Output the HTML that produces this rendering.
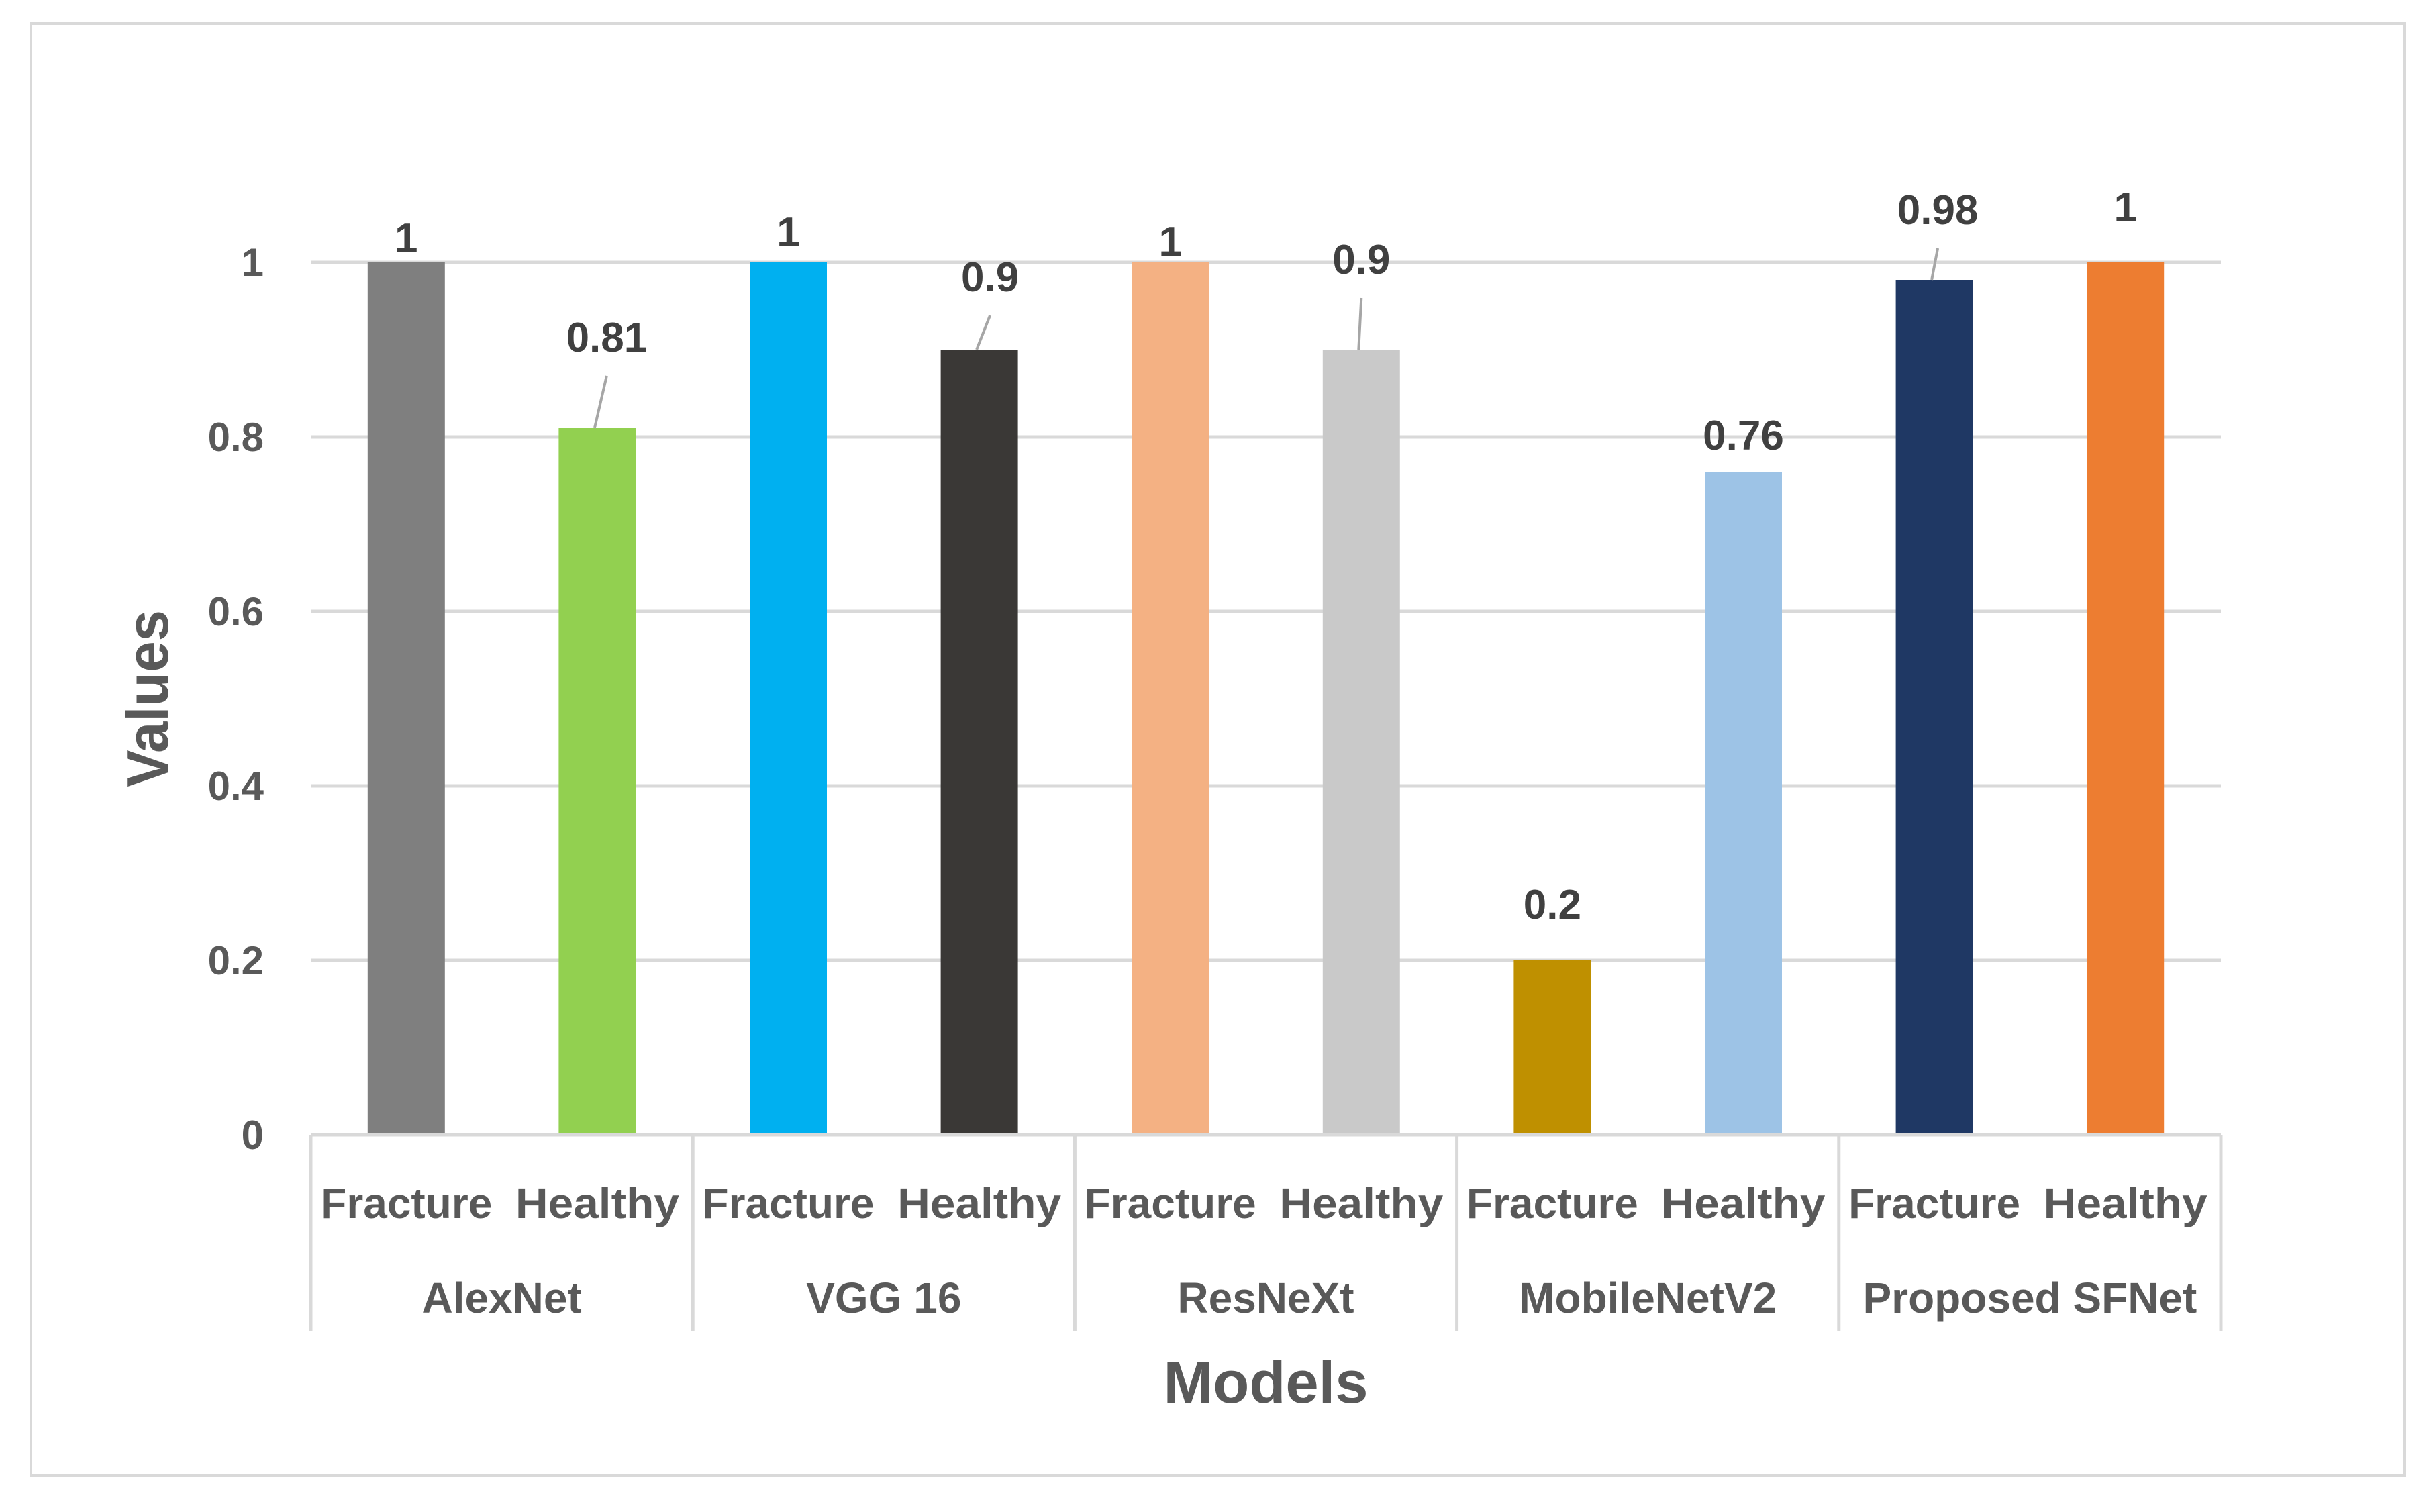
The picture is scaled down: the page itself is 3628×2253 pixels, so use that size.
<!DOCTYPE html>
<html><head><meta charset="utf-8"><style>
html,body{margin:0;padding:0;background:#fff;}
svg{display:block;font-family:"Liberation Sans",sans-serif;}
</style></head><body>
<svg id="chart" width="3628" height="2253" viewBox="0 0 3628 2253" xmlns="http://www.w3.org/2000/svg">
<rect x="46" y="35" width="3537" height="2164" fill="#fff" stroke="#d9d9d9" stroke-width="4"/>
<g id="grid"></g><g id="bars"></g><g id="labels"></g><g id="axes"></g>
<text transform="translate(250,1041) rotate(-90)" text-anchor="middle" font-size="88" font-weight="bold" fill="#595959" textLength="264" lengthAdjust="spacingAndGlyphs">Values</text>
<text x="1886" y="2090" text-anchor="middle" font-size="88" font-weight="bold" fill="#595959" textLength="305" lengthAdjust="spacingAndGlyphs">Models</text>
</svg>
<script>
const models = ["AlexNet","VGG 16","ResNeXt","MobileNetV2","Proposed SFNet"];
const classes = ["Fracture","Healthy"];
const values = [1,0.81,1,0.9,1,0.9,0.2,0.76,0.98,1];
const valueLabels = ["1","0.81","1","0.9","1","0.9","0.2","0.76","0.98","1"];
const yTicks = [0,0.2,0.4,0.6,0.8,1];
const colors = ["#7f7f7f","#92d050","#00b0f0","#3a3836","#f4b183","#c9c9c9","#bf9000","#9dc3e6","#1f3864","#ed7d31"];
const labelLift = [37,136,46,109,32,135,84,55,105,83];
const labelShift = [0,14,0,16,0,0,0,0,5,0];
const leader = [false,true,false,true,false,true,false,false,true,false];

const NS="http://www.w3.org/2000/svg";
const L=463,R=3309,T=391,B=1691;
const nCat=values.length, catW=(R-L)/nCat, barW=115;
const y=v=>B-(B-T)*v;
const xc=i=>L+catW*(i+0.5);
function mk(tag,attrs,parent,text){const e=document.createElementNS(NS,tag);for(const k in attrs)e.setAttribute(k,attrs[k]);if(text!==undefined)e.textContent=text;document.getElementById(parent).appendChild(e);return e;}

yTicks.forEach(t=>{
  if(t>0){const g=mk('line',{x1:L,x2:R,y1:y(t),y2:y(t),stroke:'#d9d9d9','stroke-width':5},'grid');
  
  }
  const tl=mk('text',{x:393,y:y(t)+21,'text-anchor':'end','font-size':60,'font-weight':'bold',fill:'#595959'},'axes',String(t));
  
  
});
values.forEach((v,i)=>{
  const r=mk('rect',{x:xc(i)-barW/2,y:y(v),width:barW,height:B-y(v),fill:colors[i]},'bars');
  
  
  const cy=y(v)-labelLift[i];
  const lx=xc(i)+labelShift[i];
  const lt=mk('text',{x:lx,y:cy+22,'text-anchor':'middle','font-size':62,'font-weight':'bold',fill:'#404040'},'labels',valueLabels[i]);
  
  
  if(leader[i]){
    const ln=mk('line',{x1:xc(i)-4,y1:y(v),x2:lx,y2:cy+58,stroke:'#a6a6a6','stroke-width':4},'labels');
    
    
  }
  const ct=mk('text',{x:xc(i),y:1815,'text-anchor':'middle','font-size':64,'font-weight':'bold',fill:'#595959',textLength:classes[i%2]==="Fracture"?256:244,lengthAdjust:'spacingAndGlyphs'},'axes',classes[i%2]);
  
  
});
const ax=mk('line',{x1:L,x2:R,y1:B,y2:B,stroke:'#d9d9d9',"stroke-width":5},'axes');


const gW=(R-L)/models.length;
for(let g=0;g<=models.length;g++){
  const d=mk('line',{x1:L+gW*g,x2:L+gW*g,y1:B,y2:1983,stroke:'#d9d9d9','stroke-width':5},'axes');
  
  
}
models.forEach((m,g)=>{
  const t=mk('text',{x:L+gW*(g+0.5),y:1956,'text-anchor':'middle','font-size':64,'font-weight':'bold',fill:'#595959'},'axes',m);
  
  
});
</script>
</body></html>
